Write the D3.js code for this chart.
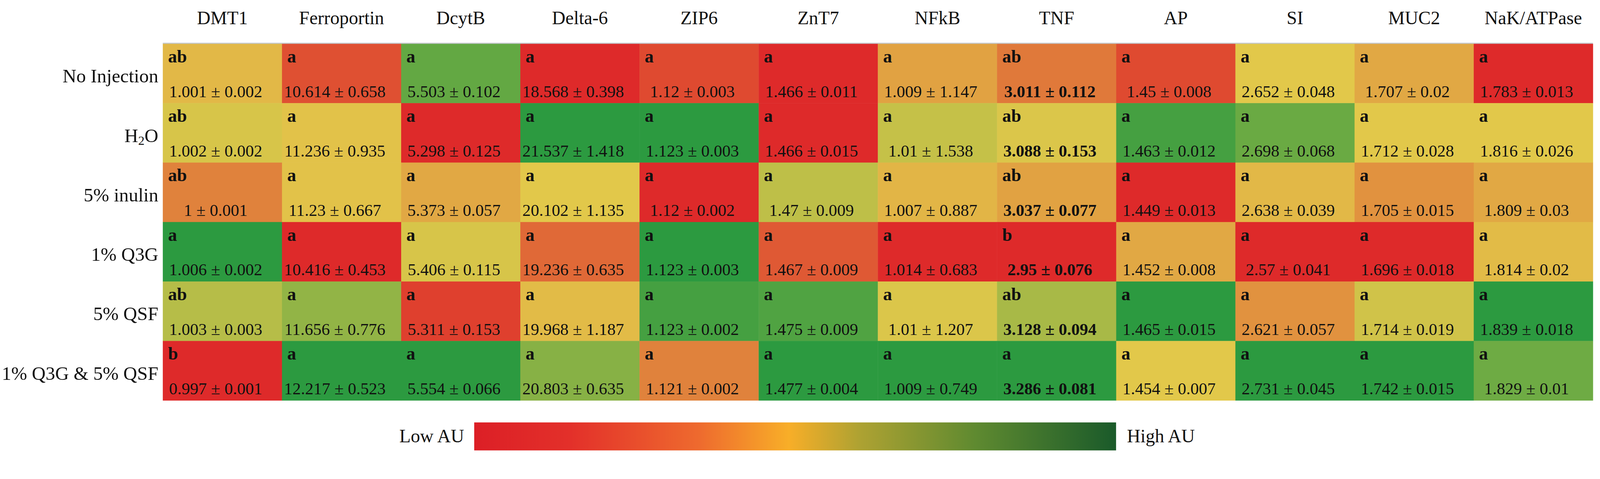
<!DOCTYPE html>
<html>
<head>
<meta charset="utf-8">
<script src="https://cdn.jsdelivr.net/npm/d3@7"></script>
<style>
  html, body { margin: 0; padding: 0; background: #fff; width: 100%; height: 100%; overflow: hidden; }
  svg { display: block; width: 100vw; height: 100vh; }
</style>
</head>
<body>
<svg viewBox="0 0 4285 1227" preserveAspectRatio="xMidYMin meet"></svg>
<script>
// genes (columns) and treatments (rows)
const genes = ["DMT1", "Ferroportin", "DcytB", "Delta-6", "ZIP6", "ZnT7", "NFkB", "TNF", "AP", "SI", "MUC2", "NaK/ATPase"];
const treatments = ["No Injection", "H2O", "5% inulin", "1% Q3G", "5% QSF", "1% Q3G & 5% QSF"];

// mean values, one row per treatment
const means = [
  [1.001, 10.614, 5.503, 18.568, 1.12,  1.466, 1.009, 3.011, 1.45,  2.652, 1.707, 1.783],
  [1.002, 11.236, 5.298, 21.537, 1.123, 1.466, 1.01,  3.088, 1.463, 2.698, 1.712, 1.816],
  [1,     11.23,  5.373, 20.102, 1.12,  1.47,  1.007, 3.037, 1.449, 2.638, 1.705, 1.809],
  [1.006, 10.416, 5.406, 19.236, 1.123, 1.467, 1.014, 2.95,  1.452, 2.57,  1.696, 1.814],
  [1.003, 11.656, 5.311, 19.968, 1.123, 1.475, 1.01,  3.128, 1.465, 2.621, 1.714, 1.839],
  [0.997, 12.217, 5.554, 20.803, 1.121, 1.477, 1.009, 3.286, 1.454, 2.731, 1.742, 1.829]
];

// standard deviations
const sds = [
  [0.002, 0.658, 0.102, 0.398, 0.003, 0.011, 1.147, 0.112, 0.008, 0.048, 0.02,  0.013],
  [0.002, 0.935, 0.125, 1.418, 0.003, 0.015, 1.538, 0.153, 0.012, 0.068, 0.028, 0.026],
  [0.001, 0.667, 0.057, 1.135, 0.002, 0.009, 0.887, 0.077, 0.013, 0.039, 0.015, 0.03],
  [0.002, 0.453, 0.115, 0.635, 0.003, 0.009, 0.683, 0.076, 0.008, 0.041, 0.018, 0.02],
  [0.003, 0.776, 0.153, 1.187, 0.002, 0.009, 1.207, 0.094, 0.015, 0.057, 0.019, 0.018],
  [0.001, 0.523, 0.066, 0.635, 0.002, 0.004, 0.749, 0.081, 0.007, 0.045, 0.015, 0.01]
];

// significance letters
const letters = [
  ["ab", "a", "a", "a", "a", "a", "a", "ab", "a", "a", "a", "a"],
  ["ab", "a", "a", "a", "a", "a", "a", "ab", "a", "a", "a", "a"],
  ["ab", "a", "a", "a", "a", "a", "a", "ab", "a", "a", "a", "a"],
  ["a",  "a", "a", "a", "a", "a", "a", "b",  "a", "a", "a", "a"],
  ["ab", "a", "a", "a", "a", "a", "a", "ab", "a", "a", "a", "a"],
  ["b",  "a", "a", "a", "a", "a", "a", "a",  "a", "a", "a", "a"]
];

// position of each cell on the Low AU (0) -> High AU (1) colour scale
const colorLevel = [
  [0.45, 0.12, 0.85, 0.00, 0.10, 0.00, 0.38, 0.25, 0.10, 0.50, 0.40, 0.00],
  [0.53, 0.48, 0.00, 1.00, 1.00, 0.00, 0.58, 0.52, 0.93, 0.83, 0.50, 0.50],
  [0.28, 0.48, 0.40, 0.50, 0.00, 0.60, 0.44, 0.38, 0.00, 0.45, 0.33, 0.40],
  [1.00, 0.00, 0.53, 0.20, 1.00, 0.15, 0.00, 0.00, 0.40, 0.00, 0.00, 0.46],
  [0.62, 0.72, 0.07, 0.46, 0.93, 0.90, 0.52, 0.66, 1.00, 0.33, 0.55, 1.00],
  [0.00, 1.00, 1.00, 0.75, 0.28, 1.00, 1.00, 1.00, 0.50, 1.00, 1.00, 0.82]
];

// legend gradient
const legendStops = [
  { offset: 0.00, color: "#dc1f26" },
  { offset: 0.15, color: "#e3302a" },
  { offset: 0.35, color: "#ee6a2e" },
  { offset: 0.49, color: "#f8ae28" },
  { offset: 0.60, color: "#aea232" },
  { offset: 0.78, color: "#5f8a30" },
  { offset: 1.00, color: "#1a5a2a" }
];

const boldValueCols = ["TNF"];
const font = "'Liberation Serif', 'Times New Roman', serif";

const svg = d3.select("svg");

const x = d3.scaleBand().domain(genes).range([436, 4266]);
const y = d3.scaleBand().domain(treatments).range([117, 1073]);

const color = d3.scaleLinear()
    .domain([0, 0.5, 1])
    .range(["#de2a2a", "#e2c84a", "#2c9a40"]);

// flatten into cells
const cells = [];
treatments.forEach((t, i) => {
  genes.forEach((g, j) => {
    cells.push({ t, g, mean: means[i][j], sd: sds[i][j], letter: letters[i][j], level: colorLevel[i][j] });
  });
});

const grid = svg.append("g");

grid.selectAll("rect.cell")
  .data(cells)
  .enter()
  .append("rect")
  .attr("class", "cell")
  .attr("x", d => x(d.g))
  .attr("y", d => y(d.t))
  .attr("width", x.bandwidth() + 0.5)
  .attr("height", y.bandwidth() + 0.5)
  .attr("fill", d => color(d.level));

// gray rule along the top of the grid
svg.append("line")
  .attr("x1", x.range()[0]).attr("x2", x.range()[1])
  .attr("y1", y.range()[0] - 1).attr("y2", y.range()[0] - 1)
  .attr("stroke", "#c3c7cb")
  .attr("stroke-width", 3);

// letters
grid.selectAll("text.letter")
  .data(cells)
  .enter()
  .append("text")
  .attr("class", "letter")
  .attr("x", d => x(d.g) + 14)
  .attr("y", d => y(d.t) + 50)
  .attr("font-family", font)
  .attr("font-size", "48px")
  .attr("font-weight", "bold")
  .attr("fill", "#111")
  .text(d => d.letter);

// mean ± sd
grid.selectAll("text.value")
  .data(cells)
  .enter()
  .append("text")
  .attr("class", "value")
  .attr("x", d => x(d.g) + x.bandwidth() / 2 - 18)
  .attr("y", d => y(d.t) + 143)
  .attr("text-anchor", "middle")
  .attr("font-family", font)
  .attr("font-size", "45px")
  .attr("font-weight", d => boldValueCols.includes(d.g) ? "bold" : "normal")
  .attr("fill", "#111")
  .text(d => `${d.mean} ± ${d.sd}`);

// column headers
svg.selectAll("text.header")
  .data(genes)
  .enter()
  .append("text")
  .attr("class", "header")
  .attr("x", d => x(d) + x.bandwidth() / 2)
  .attr("y", 65)
  .attr("text-anchor", "middle")
  .attr("font-family", font)
  .attr("font-size", "50px")
  .attr("fill", "#111")
  .text(d => d);

// row labels (H2O gets a subscript)
const rowLabels = svg.selectAll("text.rowlabel")
  .data(treatments)
  .enter()
  .append("text")
  .attr("class", "rowlabel")
  .attr("x", 424)
  .attr("y", d => y(d) + 104)
  .attr("text-anchor", "end")
  .attr("font-family", font)
  .attr("font-size", "51px")
  .attr("fill", "#111");

rowLabels.each(function(d) {
  const el = d3.select(this);
  if (d === "H2O") {
    el.append("tspan").text("H");
    el.append("tspan").attr("font-size", "34px").attr("dy", 8).text("2");
    el.append("tspan").attr("dy", -8).text("O");
  } else {
    el.text(d);
  }
});

// legend
const defs = svg.append("defs");
const grad = defs.append("linearGradient").attr("id", "legendGrad");
grad.selectAll("stop")
  .data(legendStops)
  .enter()
  .append("stop")
  .attr("offset", d => d.offset)
  .attr("stop-color", d => d.color);

const legendX = 1270, legendW = 1719, legendY = 1132, legendH = 75;

svg.append("rect")
  .attr("x", legendX)
  .attr("y", legendY)
  .attr("width", legendW)
  .attr("height", legendH)
  .attr("fill", "url(#legendGrad)");

svg.append("text")
  .attr("x", legendX - 27)
  .attr("y", legendY + 53)
  .attr("text-anchor", "end")
  .attr("font-family", font)
  .attr("font-size", "50px")
  .attr("fill", "#111")
  .text("Low AU");

svg.append("text")
  .attr("x", legendX + legendW + 29)
  .attr("y", legendY + 53)
  .attr("font-family", font)
  .attr("font-size", "50px")
  .attr("fill", "#111")
  .text("High AU");
</script>
</body>
</html>
